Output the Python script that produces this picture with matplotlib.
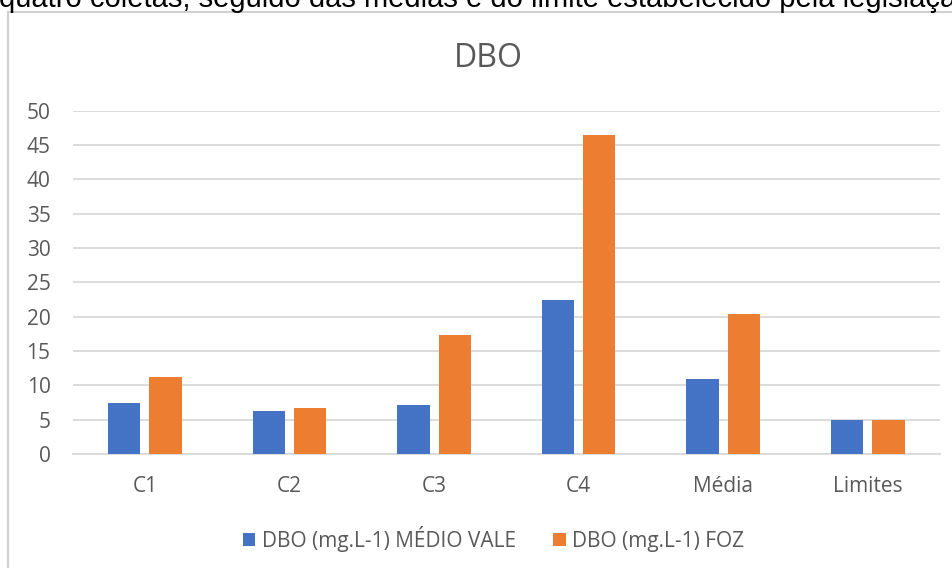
import matplotlib
matplotlib.use("Agg")
import matplotlib.pyplot as plt
from matplotlib.patches import Rectangle, Patch
import numpy as np

categories = ["C1", "C2", "C3", "C4", "Média", "Limites"]
medio_vale = [7.5, 6.3, 7.2, 22.5, 10.9, 5.0]
foz = [11.2, 6.7, 17.3, 46.4, 20.4, 5.0]
series_names = ["DBO (mg.L-1) MÉDIO VALE", "DBO (mg.L-1) FOZ"]
title = "DBO"
caption = "quatro coletas, seguido das médias e do limite estabelecido pela legislação"
yticks = [0, 5, 10, 15, 20, 25, 30, 35, 40, 45, 50]

BLUE = "#4472C4"
ORANGE = "#ED7D31"
GRID = "#D9D9D9"
TXT = "#595959"
FONT = ["Open Sans", "DejaVu Sans"]

W, H = 953, 568
fig = plt.figure(figsize=(W / 100, H / 100), dpi=100)

# caption fragment at top (cropped in the reference)
fig.text(-1 / W, 1 - 7 / H, caption, fontsize=21, family=["Liberation Sans", "DejaVu Sans"],
         color="black", va="baseline", ha="left")

# chart border
fig.patches.append(Rectangle((8.5 / W, -0.2), 1.2, 1.2 - 12 / H, transform=fig.transFigure,
                             fill=False, edgecolor="#D0D0D0", linewidth=1.5, clip_on=False))

ax = fig.add_axes([72.7 / W, 1 - 454 / H, (940 - 72.7) / W, (454 - 110.7) / H])
x = np.arange(len(categories))
bw = 0.2235
off = 0.1428
ax.bar(x - off, medio_vale, width=bw, color=BLUE, zorder=3)
ax.bar(x + off, foz, width=bw, color=ORANGE, zorder=3)

ax.set_xlim(-0.5, len(categories) - 0.5)
ax.set_ylim(0, 50)
ax.set_yticks(yticks)
ax.yaxis.grid(True, color=GRID, linewidth=1.3, zorder=0)
ax.set_axisbelow(True)
for s in ["top", "right", "left"]:
    ax.spines[s].set_visible(False)
ax.spines["bottom"].set_color(GRID)
ax.spines["bottom"].set_linewidth(1.3)
ax.spines["bottom"].set_zorder(2)
ax.set_xticks(x)
ax.set_xticklabels(categories)
ax.tick_params(axis="both", length=0, colors=TXT, labelsize=15)
ax.tick_params(axis="y", pad=16)
ax.tick_params(axis="x", pad=16)
for lab in ax.get_xticklabels() + ax.get_yticklabels():
    lab.set_family(FONT)

fig.text(488.5 / W, 1 - 67 / H, title, fontsize=23, family=FONT, color=TXT,
         ha="center", va="baseline")

handles = [Patch(facecolor=BLUE, edgecolor="none"), Patch(facecolor=ORANGE, edgecolor="none")]
leg = fig.legend(handles, series_names, loc="center", bbox_to_anchor=(493.5 / W, 1 - 539 / H),
                 ncol=2, frameon=False, handlelength=0.6, handleheight=0.6,
                 handletextpad=0.3, columnspacing=1.8,
                 prop={"family": FONT, "size": 15})
for t in leg.get_texts():
    t.set_color(TXT)

fig.savefig("out.png", dpi=100)
